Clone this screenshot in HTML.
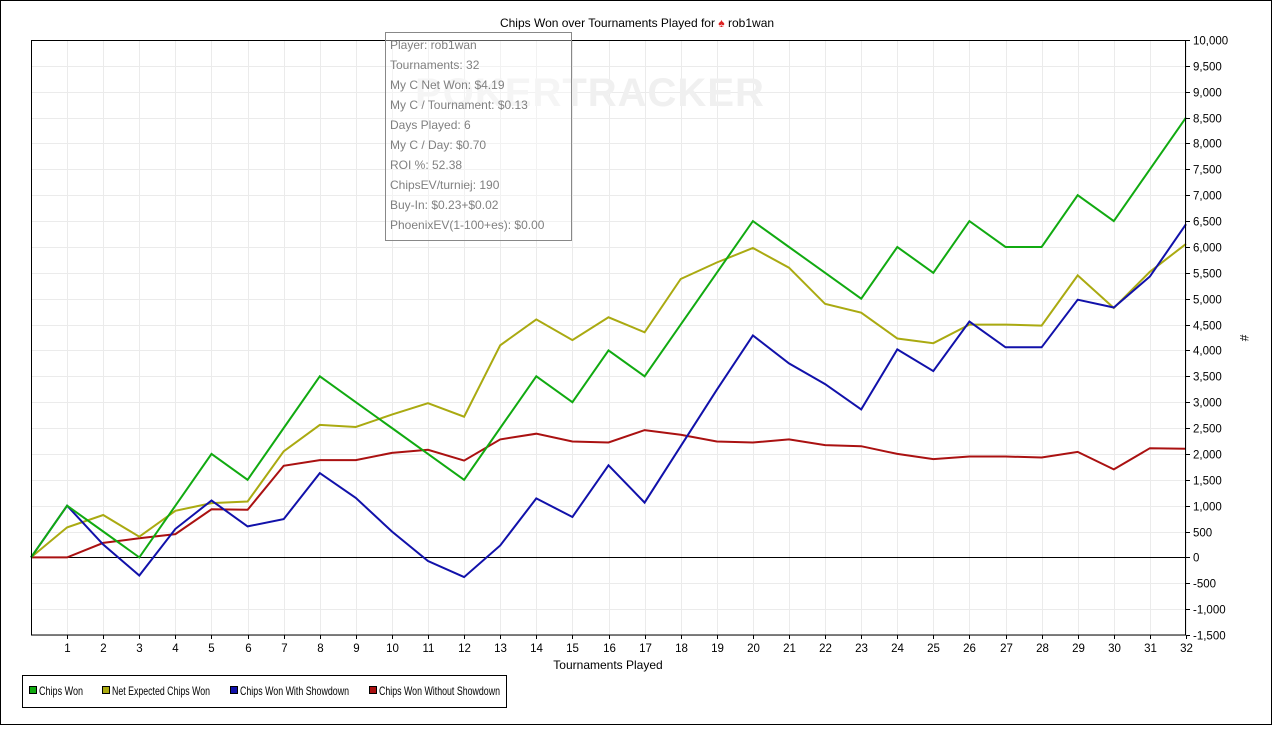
<!DOCTYPE html>
<html><head><meta charset="utf-8"><style>
body{margin:0;background:#fff;}
svg text{font-family:"Liberation Sans",sans-serif;}
</style></head><body>
<svg id="s" width="1273" height="726" xmlns="http://www.w3.org/2000/svg">
<rect x="0.5" y="0.5" width="1271" height="724" fill="#fff" stroke="#000"/>
<g id="grid"></g>
<text x="590" y="106" font-size="40" font-weight="bold" fill="#f0f0f0" text-anchor="middle" style="letter-spacing:1px">POKERTRACKER</text>
<line x1="31" y1="557.5" x2="1186" y2="557.5" stroke="#000"/>
<g id="series" fill="none" stroke-width="2"></g>
<rect x="31.5" y="40.5" width="1154" height="594.5" fill="none" stroke="#000"/>
<g id="ticks" font-size="11.5"></g>
<text x="637" y="27" font-size="12" text-anchor="middle">Chips Won over Tournaments Played for <tspan fill="#d22">♠</tspan> rob1wan</text>
<text x="608" y="669" font-size="12" text-anchor="middle">Tournaments Played</text>
<text x="1240" y="338" font-size="12" transform="rotate(90 1240 338)" text-anchor="middle">#</text>
<rect x="385.5" y="32.5" width="186" height="208" fill="#fff" fill-opacity="0.35" stroke="#888"/>
<g font-size="12" fill="#808080">
<text x="390" y="49">Player: rob1wan</text>
<text x="390" y="69">Tournaments: 32</text>
<text x="390" y="89">My C Net Won: $4.19</text>
<text x="390" y="109">My C / Tournament: $0.13</text>
<text x="390" y="129">Days Played: 6</text>
<text x="390" y="149">My C / Day: $0.70</text>
<text x="390" y="169">ROI %: 52.38</text>
<text x="390" y="189">ChipsEV/turniej: 190</text>
<text x="390" y="209">Buy-In: $0.23+$0.02</text>
<text x="390" y="229">PhoenixEV(1-100+es): $0.00</text>
</g>
<rect x="22.5" y="675.5" width="484" height="32" fill="none" stroke="#000"/>
<g font-size="12">
<rect x="29.5" y="686.5" width="7" height="7" fill="#1a1" stroke="#000"/><text x="39" y="695" textLength="44" lengthAdjust="spacingAndGlyphs">Chips Won</text>
<rect x="102.5" y="686.5" width="7" height="7" fill="#aa1" stroke="#000"/><text x="112" y="695" textLength="98" lengthAdjust="spacingAndGlyphs">Net Expected Chips Won</text>
<rect x="230.5" y="686.5" width="7" height="7" fill="#11a" stroke="#000"/><text x="240" y="695" textLength="109" lengthAdjust="spacingAndGlyphs">Chips Won With Showdown</text>
<rect x="369.5" y="686.5" width="7" height="7" fill="#a11" stroke="#000"/><text x="379" y="695" textLength="121" lengthAdjust="spacingAndGlyphs">Chips Won Without Showdown</text>
</g>
</svg>
<script>
const NS="http://www.w3.org/2000/svg";
const X=i=>31+i*1155/32, Y=v=>557.4-v*0.05174;
function el(p,t,a,txt){const e=document.createElementNS(NS,t);for(const k in a)e.setAttribute(k,a[k]);if(txt!=null)e.textContent=txt;document.getElementById(p).appendChild(e);}
for(let v=-1500;v<=10000;v+=500){const y=Math.round(Y(v))+0.5;el("grid","line",{x1:31,x2:1186,y1:y,y2:y,stroke:"#ebebeb"});
el("ticks","line",{x1:1186,x2:1190,y1:y,y2:y,stroke:"#000"});el("ticks","text",{x:1193,y:y+4},v.toLocaleString("en-US"));}
for(let i=1;i<=32;i++){const x=Math.round(X(i))+0.5;el("grid","line",{x1:x,x2:x,y1:40,y2:635,stroke:"#ebebeb"});
el("ticks","line",{x1:x,x2:x,y1:635,y2:639,stroke:"#000"});el("ticks","text",{x:x,y:652,"text-anchor":"middle"},i);}
const D={
"#a11":[0,0,280,370,450,930,920,1770,1880,1880,2020,2080,1870,2280,2390,2240,2220,2460,2370,2240,2220,2280,2170,2150,2000,1900,1950,1950,1930,2040,1700,2110,2100],
"#aa1":[0,580,820,400,900,1050,1080,2050,2560,2520,2760,2980,2720,4100,4600,4200,4640,4350,5380,5700,5980,5600,4900,4730,4230,4140,4500,4500,4480,5450,4820,5520,6060],
"#11a":[0,1000,250,-350,550,1100,600,740,1630,1150,500,-70,-380,230,1140,780,1780,1060,2150,3240,4290,3750,3350,2860,4020,3600,4560,4060,4060,4980,4830,5430,6440],
"#1a1":[0,1000,500,0,1000,2000,1500,2500,3500,3000,2500,2000,1500,2500,3500,3000,4000,3500,4500,5500,6500,6000,5500,5000,6000,5500,6500,6000,6000,7000,6500,7500,8500]};
for(const c of ["#a11","#aa1","#11a","#1a1"])el("series","polyline",{stroke:c,points:D[c].map((v,i)=>X(i).toFixed(1)+","+Y(v).toFixed(1)).join(" ")});
</script>
</body></html>
